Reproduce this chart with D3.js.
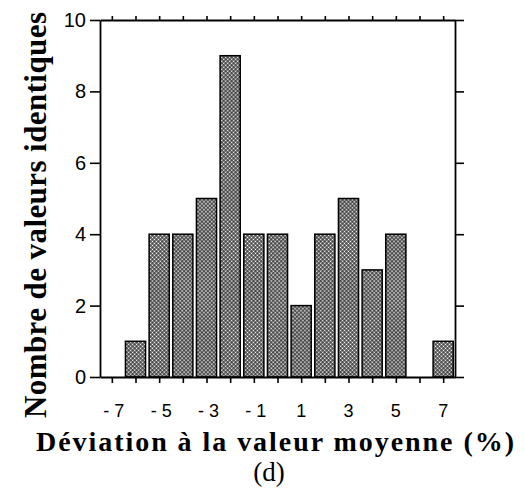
<!DOCTYPE html>
<html>
<head>
<meta charset="utf-8">
<script src="https://cdn.jsdelivr.net/npm/d3@7"></script>
<style>
  html, body { margin: 0; padding: 0; background: #fff; }
  svg { display: block; }
</style>
</head>
<body>
<svg id="chart" width="525" height="496"></svg>
<script>
// Histogram of deviations from the mean value (%)
const deviations = [-7, -6, -5, -4, -3, -2, -1, 0, 1, 2, 3, 4, 5, 6, 7];
const counts     = [ 0,  1,  4,  4,  5,  9,  4, 4, 2, 4, 5, 3, 4, 0, 1];
const xTickLabels = ["- 7", "- 5", "- 3", "- 1", "1", "3", "5", "7"];
const xTickValues = [-7, -5, -3, -1, 1, 3, 5, 7];
const yTickValues = [0, 2, 4, 6, 8, 10];

const svg = d3.select("#chart");
const plotLeft = 100, plotRight = 455, plotTop = 20, plotBottom = 377;

const x = d3.scaleLinear().domain([-7.5, 7.5]).range([plotLeft, plotRight]);
const y = d3.scaleLinear().domain([0, 10]).range([plotBottom, plotTop]);

// dotted fill used for the bars
const defs = svg.append("defs");
const pat = defs.append("pattern")
  .attr("id", "dots")
  .attr("patternUnits", "userSpaceOnUse")
  .attr("width", 2.8).attr("height", 2.8)
  .attr("patternTransform", "rotate(45)");
pat.append("rect").attr("width", 2.8).attr("height", 2.8).attr("fill", "#1a1a1a");
pat.append("rect").attr("x", 0.45).attr("y", 0.45).attr("width", 1.8).attr("height", 1.8).attr("fill", "#fff");

const barW = 0.85 * (x(1) - x(0));
const data = deviations.map((d, i) => ({ d, c: counts[i] })).filter(o => o.c > 0);

svg.append("g").selectAll("rect")
  .data(data)
  .join("rect")
  .attr("x", o => x(o.d) - barW / 2)
  .attr("y", o => y(o.c))
  .attr("width", barW)
  .attr("height", o => y(0) - y(o.c))
  .attr("fill", "url(#dots)")
  .attr("stroke", "#000")
  .attr("stroke-width", 1.5);

const tickFont = "'Liberation Sans', Arial, Helvetica, sans-serif";

// bottom axis: ticks every unit, labels every two units
svg.append("g")
  .attr("transform", `translate(0,${plotBottom})`)
  .call(d3.axisBottom(x).tickValues(deviations).tickSize(6).tickSizeOuter(0).tickFormat(""));
svg.append("g").selectAll("text")
  .data(xTickValues)
  .join("text")
  .attr("x", (v) => x(v) + (v < 0 ? 2 : 0))
  .attr("y", 417)
  .attr("text-anchor", "middle")
  .attr("font-family", tickFont)
  .attr("font-size", 18)
  .text((v, i) => xTickLabels[i]);

// top axis: ticks only
svg.append("g")
  .attr("transform", `translate(0,${plotTop})`)
  .call(d3.axisTop(x).tickValues(deviations).tickSize(4).tickSizeOuter(0).tickFormat(""));

// left axis with labels
const yLeft = svg.append("g")
  .attr("transform", `translate(${plotLeft},0)`)
  .call(d3.axisLeft(y).tickValues(yTickValues).tickSize(10).tickSizeOuter(0).tickPadding(4));
yLeft.selectAll("text")
  .attr("font-family", tickFont)
  .attr("font-size", 20)
  .attr("fill", "#000");

// right axis: ticks only
svg.append("g")
  .attr("transform", `translate(${plotRight},0)`)
  .call(d3.axisRight(y).tickValues(yTickValues).tickSize(9).tickSizeOuter(0).tickFormat(""));

svg.selectAll(".domain, .tick line")
  .attr("stroke", "#000")
  .attr("stroke-width", 1.6);
svg.selectAll(".domain").attr("stroke-width", 1.8);

// axis titles
svg.append("text")
  .attr("x", 36).attr("y", 451)
  .attr("font-family", "'Liberation Serif', 'Times New Roman', serif")
  .attr("font-weight", "bold")
  .attr("font-size", 28)
  .attr("textLength", 478)
  .attr("lengthAdjust", "spacing")
  .text("Déviation à la valeur moyenne (%)");

svg.append("text")
  .attr("transform", "translate(46,418) rotate(-90)")
  .attr("font-family", "'Liberation Serif', 'Times New Roman', serif")
  .attr("font-weight", "bold")
  .attr("font-size", 31)
  .attr("textLength", 406)
  .attr("lengthAdjust", "spacing")
  .text("Nombre de valeurs identiques");

svg.append("text")
  .attr("x", 269).attr("y", 481)
  .attr("text-anchor", "middle")
  .attr("font-family", "'Liberation Serif', 'Times New Roman', serif")
  .attr("font-size", 27)
  .text("(d)");
</script>
</body>
</html>
